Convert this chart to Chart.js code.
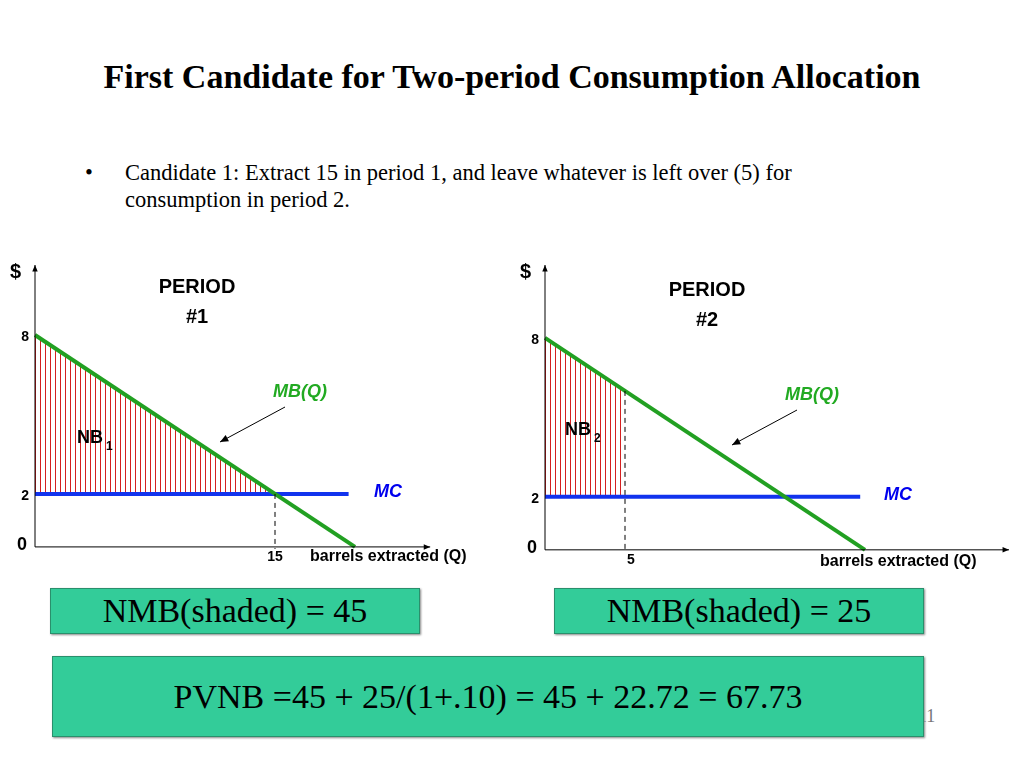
<!DOCTYPE html>
<html><head><meta charset="utf-8">
<script src="https://cdn.jsdelivr.net/npm/chart.js@4/dist/chart.umd.min.js"></script>
<style>
body{margin:0;width:1024px;height:768px;background:#fff;position:relative;overflow:hidden;font-family:"Liberation Serif",serif}
.t{position:absolute;left:0;width:1024px;top:58px;text-align:center;font-weight:bold;font-size:34px}
.b{position:absolute;left:85px;top:159px;font-size:22.5px;line-height:27px;width:820px}
.b span{position:absolute;left:0}
.b div{margin-left:40px;width:770px}
canvas{position:absolute}
.box{position:absolute;background:#33cc99;border:1px solid #2a8f6c;box-shadow:1px 1px 2px #888;text-align:center;font-size:34px}
.pg{position:absolute;left:918px;top:706px;font-size:18px;color:#777}
</style></head><body>
<div class="t">First Candidate for Two-period Consumption Allocation</div>
<div class="b"><span>•</span><div>Candidate 1: Extract 15 in period 1, and leave whatever is left over (5) for consumption in period 2.</div></div>
<canvas id="c1" style="left:0;top:255px;width:510px;height:320px"></canvas>
<canvas id="c2" style="left:510px;top:255px;width:514px;height:320px"></canvas>
<div class="pg">11</div>
<div class="box" style="left:50px;top:588px;width:368px;height:44px;line-height:44px">NMB(shaded) = 45</div>
<div class="box" style="left:554px;top:588px;width:368px;height:44px;line-height:44px">NMB(shaded) = 25</div>
<div class="box" style="left:52px;top:656px;width:870px;height:79px;line-height:79px">PVNB =45 + 25/(1+.10) = 45 + 22.72 = 67.73</div>
<script>
// demand and cost
const mbQ = [0, 20];
const mbP = [8, 0];
const mcP = 2;
const period1Q = 15;
const period2Q = 5;
const yTicks = [0, 2, 8];

const mb = q => 8 - 0.4 * q;
const PX = 16; // px per unit Q

function hatch() {
	const c = document.createElement("canvas");
	c.width = 5; c.height = 10;
	const g = c.getContext("2d");
	g.strokeStyle = "#d42020"; g.lineWidth = 1;
	g.beginPath(); g.moveTo(0.5, 0); g.lineTo(0.5, 10); g.stroke();
	return g.createPattern(c, "repeat");
}

function arrow(ctx, x1, y1, x2, y2, head) {
	ctx.beginPath(); ctx.moveTo(x1, y1); ctx.lineTo(x2, y2); ctx.stroke();
	const a = Math.atan2(y2 - y1, x2 - x1);
	ctx.beginPath();
	ctx.moveTo(x2, y2);
	ctx.lineTo(x2 - head * Math.cos(a - 0.4), y2 - head * Math.sin(a - 0.4));
	ctx.lineTo(x2 - head * Math.cos(a + 0.4), y2 - head * Math.sin(a + 0.4));
	ctx.closePath(); ctx.fill();
}

function makeChart(id, qStar, xAxisEnd, opt) {
	const decor = {
		id: "decor",
		afterDatasetsDraw(chart) {
			const { ctx, scales: { x, y } } = chart;
			const X = x.getPixelForValue.bind(x), Y = y.getPixelForValue.bind(y);
			ctx.save();
			ctx.strokeStyle = "#000"; ctx.fillStyle = "#000"; ctx.lineWidth = 1;
			arrow(ctx, X(0), Y(0), X(0), 10, 7);
			arrow(ctx, X(0), Y(0), X(xAxisEnd), Y(0), 7);
			ctx.setLineDash([5, 4]);
			ctx.beginPath(); ctx.moveTo(X(qStar), Y(mb(qStar))); ctx.lineTo(X(qStar), Y(0) + 2); ctx.stroke();
			ctx.setLineDash([]);
			ctx.font = "bold 20px 'Liberation Sans', Arial";
			ctx.textAlign = "left"; ctx.textBaseline = "alphabetic";
			ctx.fillText("$", X(0) - 25, 23);
			ctx.font = "bold 14px 'Liberation Sans', Arial";
			ctx.textAlign = "right"; ctx.textBaseline = "middle";
			yTicks.forEach(t => {
				if (t === 0) { ctx.font = "bold 18px 'Liberation Sans', Arial"; ctx.fillText("0", X(0) - 8, Y(0) - 2); ctx.font = "bold 14px 'Liberation Sans', Arial"; }
				else ctx.fillText(String(t), X(0) - 6, Y(t) + 2);
			});
			ctx.textAlign = "center";
			ctx.fillText(String(qStar), X(qStar) + opt.qDx, Y(0) + 10);
			ctx.font = "bold 16px 'Liberation Sans', Arial";
			ctx.textAlign = "left";
			ctx.fillText("barrels extracted (Q)", opt.lblX, Y(0) + opt.lblDy);
			ctx.font = "bold 20px 'Liberation Sans', Arial";
			ctx.textAlign = "center";
			ctx.fillText("PERIOD", opt.perX, opt.perY);
			ctx.fillText(opt.per, opt.perX, opt.perY + 30);
			ctx.font = "italic bold 18px 'Liberation Sans', Arial";
			ctx.fillStyle = "#22aa22";
			ctx.fillText("MB(Q)", opt.mbX, opt.mbY);
			ctx.fillStyle = "#0000ee";
			ctx.fillText("MC", opt.mcX, Y(mcP) - 2);
			ctx.fillStyle = "#000";
			arrow(ctx, opt.mbX - 15, opt.mbY + 15, opt.mbX - 80, opt.mbY + 50, 9);
			ctx.font = "bold 18px 'Liberation Sans', Arial";
			ctx.textAlign = "left";
			ctx.fillText("NB", opt.nbX, opt.nbY);
			ctx.font = "bold 12px 'Liberation Sans', Arial";
			ctx.fillText(opt.sub, opt.nbX + 29, opt.nbY + 9);
			ctx.restore();
		}
	};
	return new Chart(document.getElementById(id), {
		type: "scatter",
		data: {
			datasets: [
				{ data: [{ x: 0, y: mb(0) }, { x: qStar, y: mb(qStar) }], showLine: true, borderColor: "#d42020", borderWidth: 1, pointRadius: 0, backgroundColor: hatch(), fill: { value: mcP }, order: 3 },
				{ data: [{ x: 0, y: mcP }, { x: opt.mcEnd, y: mcP }], showLine: true, borderColor: "#1133ee", borderWidth: 4, pointRadius: 0, order: 2 },
				{ data: mbQ.map((q, i) => ({ x: q, y: mbP[i] })), showLine: true, borderColor: "#22a022", borderWidth: 4, pointRadius: 0, order: 1 },
			],
		},
		options: {
			responsive: false,
			animation: false,
			layout: { padding: 0 },
			plugins: { legend: { display: false }, tooltip: { enabled: false } },
			scales: {
				x: { type: "linear", display: false, min: -35 / PX, max: opt.xMax },
				y: { display: false, min: opt.yMin, max: opt.yMax },
			},
		},
		plugins: [decor],
	});
}

function size(id, w, h) { const c = document.getElementById(id); c.width = w; c.height = h; }
size("c1", 510, 320); size("c2", 514, 320);

makeChart("c1", period1Q, 24.7, { xMax: 475 / PX, yMin: -1.06, yMax: 11.02, mcEnd: 19.6, qDx: 0, lblX: 310, lblDy: 10, perX: 197, perY: 32, per: "#1", mbX: 300, mbY: 137, mcX: 388, nbX: 77, nbY: 183, sub: "1" });
makeChart("c2", period2Q, 29, { xMax: 479 / PX, yMin: -0.95, yMax: 11.13, mcEnd: 19.7, qDx: 6, lblX: 310, lblDy: 12, perX: 197, perY: 35, per: "#2", mbX: 302, mbY: 140, mcX: 388, nbX: 55, nbY: 175, sub: "2" });
</script>
</body></html>
